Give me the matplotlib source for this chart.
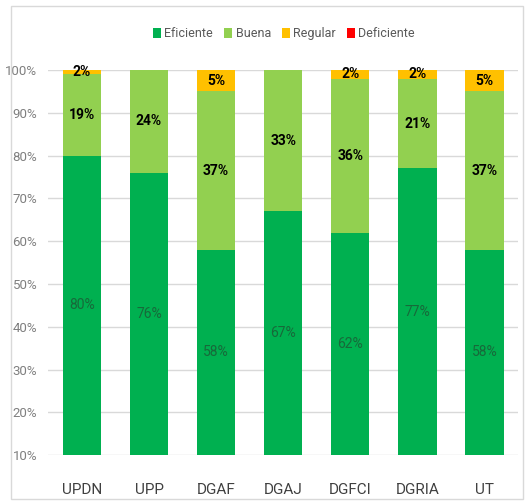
import numpy as np
import matplotlib.pyplot as plt
from matplotlib.patches import Rectangle

# Datos
areas = ['UPDN', 'UPP', 'DGAF', 'DGAJ', 'DGFCI', 'DGRIA', 'UT']
eficiente = [80, 76, 58, 67, 62, 77, 58]
buena = [19, 24, 37, 33, 36, 21, 37]
regular = [2, 0, 5, 0, 2, 2, 5]
deficiente = [0, 0, 0, 0, 0, 0, 0]

plt.rcParams['font.family'] = ['Roboto', 'DejaVu Sans']

fig = plt.figure(figsize=(5.26, 5.04), dpi=100)
ax = fig.add_axes([0.092, 0.097, 0.893, 0.764])

x = np.arange(len(areas))
ancho = 0.57
base = 10
ef = np.array(eficiente)
bu = np.array(buena)
re = np.array(regular)
de = np.array(deficiente)

ax.bar(x, ef - base, ancho, bottom=base, color='#00B050', label='Eficiente', zorder=3)
ax.bar(x, bu, ancho, bottom=ef, color='#92D050', label='Buena', zorder=3)
ax.bar(x, re, ancho, bottom=ef + bu, color='#FFC000', label='Regular', zorder=3)
ax.bar(x, de, ancho, bottom=ef + bu + re, color='#FF0000', label='Deficiente', zorder=3)

# Etiquetas de valores
for i in range(len(areas)):
    ax.text(x[i], (base + ef[i]) / 2, f'{ef[i]}%', ha='center', va='center',
            color='#17693A', fontsize=10, zorder=4)
    ax.text(x[i], ef[i] + bu[i] / 2, f'{bu[i]}%', ha='center', va='center',
            color='black', fontsize=10, fontweight='bold', zorder=4)
    if re[i] > 0:
        top = min(ef[i] + bu[i] + re[i], 100)
        ax.text(x[i], (ef[i] + bu[i] + top) / 2, f'{re[i]}%', ha='center', va='center',
                color='black', fontsize=10, fontweight='bold', zorder=4)

ax.set_ylim(10, 100)
ax.set_xlim(-0.5, len(areas) - 0.5)
ax.set_yticks(np.arange(10, 101, 10))
ax.set_yticklabels([f'{v}%' for v in range(10, 101, 10)], color='#7F7F7F', fontsize=9.5)
ax.set_xticks(x)
ax.set_xticklabels(areas, color='#404040', fontsize=11)
ax.tick_params(axis='y', length=0, pad=8)
ax.tick_params(axis='x', length=0, pad=20)
ax.yaxis.grid(True, color='#D9D9D9', linewidth=1, zorder=0)
for s in ax.spines.values():
    s.set_visible(False)

fig.legend(loc='upper center', bbox_to_anchor=(0.54, 0.968), ncol=4, frameon=False,
           fontsize=9, handlelength=0.6, handleheight=0.8, handletextpad=0.3,
           columnspacing=0.9, labelcolor='#595959')

fig.patches.append(Rectangle((0.02, 0.01), 0.975, 0.978, transform=fig.transFigure,
                             fill=False, edgecolor='#D9D9D9', linewidth=1))

fig.savefig('out.png', dpi=100)
